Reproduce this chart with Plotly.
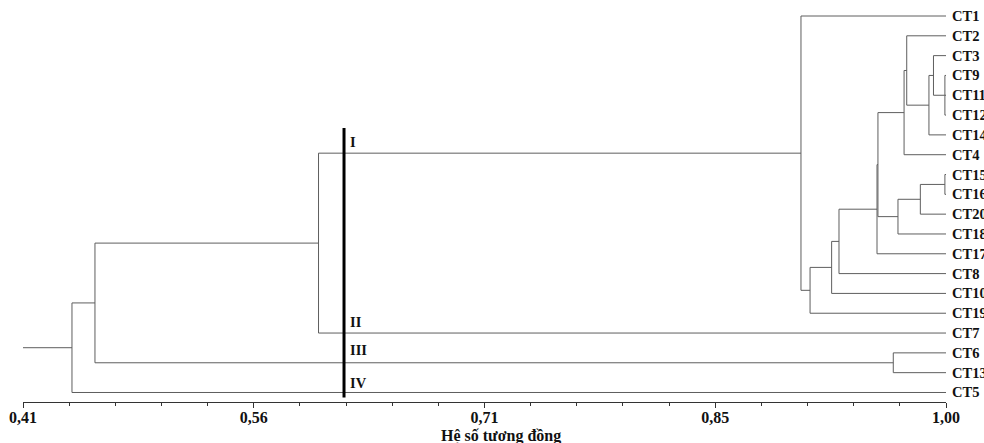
import plotly.graph_objects as go

# ---------------- data ----------------
leaves = ["CT1", "CT2", "CT3", "CT9", "CT11", "CT12", "CT14", "CT4",
          "CT15", "CT16", "CT20", "CT18", "CT17", "CT8", "CT10", "CT19",
          "CT7", "CT6", "CT13", "CT5"]

merge_names = ["a", "b", "c", "d", "e", "f", "g", "h", "i",
               "j", "k", "l", "m", "n", "o", "p", "q", "r"]
merge_children = [
    ["CT9", "CT11", "CT12"],
    ["CT3", "a"],
    ["b", "CT14"],
    ["CT2", "c"],
    ["d", "CT4"],
    ["CT15", "CT16"],
    ["f", "CT20"],
    ["g", "CT18"],
    ["e", "h"],
    ["i", "CT17"],
    ["j", "CT8"],
    ["k", "CT10"],
    ["l", "CT19"],
    ["CT1", "m"],
    ["n", "CT7"],
    ["CT6", "CT13"],
    ["o", "p"],
    ["q", "CT5"],
]
merge_sim = [0.9993, 0.992, 0.9891, 0.9749, 0.9732, 0.9993, 0.9836, 0.9693,
             0.9565, 0.9559, 0.9316, 0.9269, 0.9131, 0.9073, 0.5989, 0.9663,
             0.456, 0.4413]

group_labels = ["I", "II", "III", "IV"]
cut_value = 0.6152

x_min, x_max = 0.41, 1.00
tick_vals = [0.41, 0.5575, 0.705, 0.8525, 1.00]
tick_text = ["0,41", "0,56", "0,71", "0,85", "1,00"]
axis_title = "Hệ số tương đồng"

# ---------------- build dendrogram segments ----------------
pos = {name: i for i, name in enumerate(leaves)}
height = {name: 1.0 for name in leaves}
xs, ys = [], []
for name, ch, s in zip(merge_names, merge_children, merge_sim):
    cy = [pos[c] for c in ch]
    lo, hi = min(cy), max(cy)
    pos[name] = (lo + hi) / 2
    height[name] = s
    xs += [s, s, None]
    ys += [lo, hi, None]
    for c in ch:
        xs += [s, height[c], None]
        ys += [pos[c], pos[c], None]
root = merge_names[-1]
xs += [x_min, height[root], None]
ys += [pos[root], pos[root], None]

fig = go.Figure()
fig.add_trace(go.Scatter(x=xs, y=ys, mode="lines",
                         line=dict(color="#5e5e5e", width=1),
                         hoverinfo="skip", cliponaxis=False, showlegend=False))

serif = "Liberation Serif"
for name in leaves:
    fig.add_annotation(x=1.0, y=pos[name], xref="x", yref="y", text=name,
                       showarrow=False, xanchor="left", yanchor="middle", xshift=4,
                       font=dict(family=serif, size=14.5, color="#111", weight="bold"))

# cut line
fig.add_shape(type="line", xref="x", yref="y", x0=cut_value, x1=cut_value,
              y0=5.65, y1=19.25, line=dict(color="black", width=3))

label_y = [6.36, 15.44, 16.86, 18.52]
for lab, yy in zip(group_labels, label_y):
    fig.add_annotation(x=cut_value, y=yy, xref="x", yref="y", text=lab,
                       showarrow=False, xanchor="left", yanchor="middle", xshift=4,
                       font=dict(family=serif, size=14.5, color="#111", weight="bold"))

fig.add_annotation(x=0.518, y=-0.084, xref="paper", yref="paper", text=axis_title,
                   showarrow=False, xanchor="center", yanchor="middle",
                   font=dict(family=serif, size=16, color="#111", weight="bold"))

minor_vals = [round(x_min + k * 0.0295, 4) for k in range(21)]
fig.update_xaxes(range=[x_min, x_max], showgrid=False, zeroline=False, automargin=False,
                 showline=True, linecolor="#333", linewidth=1,
                 ticks="outside", ticklen=5, tickcolor="#333", tickwidth=1,
                 ticklabelstandoff=-4,
                 tickmode="array", tickvals=tick_vals, ticktext=tick_text,
                 tickfont=dict(family=serif, size=16, color="#111", weight="bold"),
                 minor=dict(tickmode="array", tickvals=minor_vals, ticks="outside",
                            ticklen=3, tickcolor="#333", showgrid=False))
fig.update_yaxes(range=[19.48, -0.8074], visible=False, showgrid=False, zeroline=False,
                 automargin=False)

fig.update_layout(width=984, height=443, margin=dict(l=23, r=38, t=0, b=41, autoexpand=False),
                  paper_bgcolor="white", plot_bgcolor="white", showlegend=False)

fig.write_html("out.html", config={"displayModeBar": False},
               post_script="document.body.style.margin='0';document.body.style.overflow='hidden';")
